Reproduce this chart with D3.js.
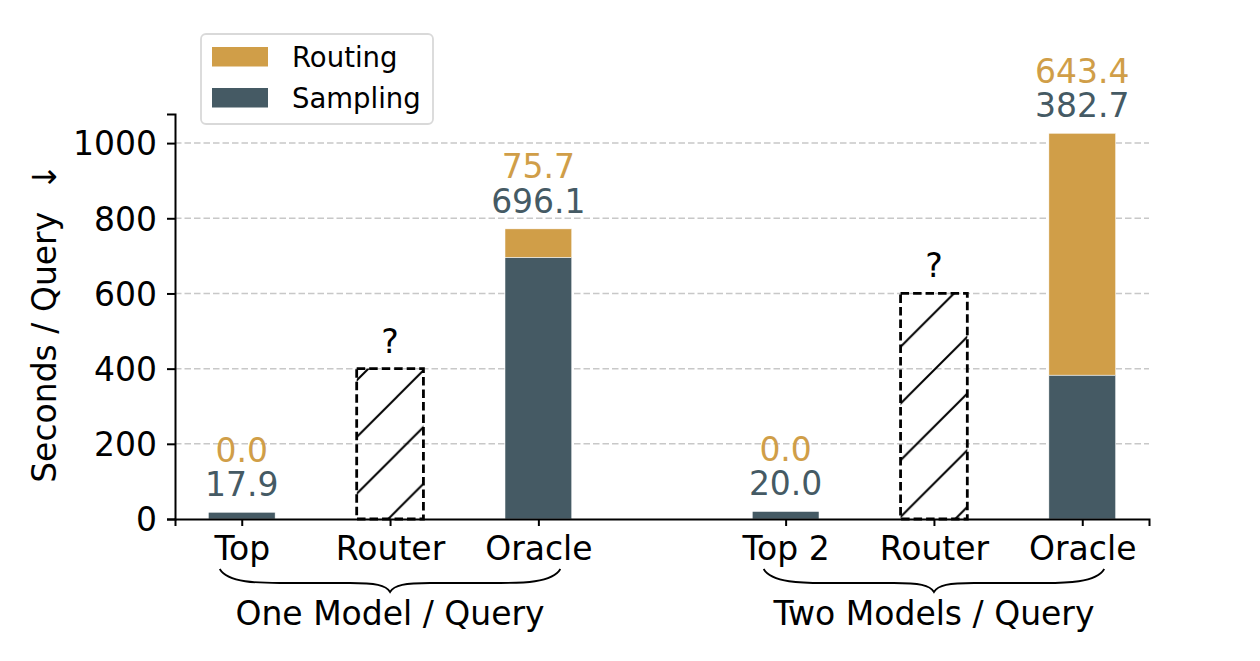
<!DOCTYPE html>
<html>
<head>
<meta charset="utf-8">
<script src="https://cdn.jsdelivr.net/npm/d3@7/dist/d3.min.js"></script>
<style>
  body { margin: 0; background: #fff; }
  svg { display: block; font-family: "DejaVu Sans", sans-serif; }
</style>
</head>
<body>
<svg id="chart"></svg>
<script>
// data
const groups = ["One Model / Query", "Two Models / Query"]
const categories = [["Top", "Router", "Oracle"], ["Top 2", "Router", "Oracle"]]
const sampling = [[17.9, null, 696.1], [20.0, null, 382.7]]
const routing = [[0.0, null, 75.7], [0.0, null, 643.4]]
const unknownHeight = [[null, 400, null], [null, 600, null]]  // hatched "?" placeholders
const yTicks = [0, 200, 400, 600, 800, 1000]

const W = 1260, H = 661
const ORANGE = "#D09E48", SLATE = "#455A64"
const FS = 33

const svg = d3.select("#chart").attr("width", W).attr("height", H)

// flatten into bars, positions are group-index based
const groupGap = 0.667
const bars = []
groups.forEach((g, gi) => {
  categories[gi].forEach((c, i) => {
    bars.push({
      group: gi, cat: c,
      pos: gi * (categories[gi].length + groupGap) + i,
      sampling: sampling[gi][i], routing: routing[gi][i],
      unknown: unknownHeight[gi][i]
    })
  })
})

const maxVal = d3.max(bars, d => d.unknown != null ? d.unknown : d.sampling + d.routing)
const barW = 0.45
const x = d3.scaleLinear()
  .domain([-barW, d3.max(bars, d => d.pos) + barW])
  .range([175, 1149])
const y = d3.scaleLinear()
  .domain([0, maxVal * 1.05])
  .range([519, 114])

const bw = x(barW) - x(0)

// hatch pattern, anchored to the page like matplotlib hatching
const hs = 56.7
const defs = svg.append('defs')
const pat = defs.append('pattern')
  .attr('id', 'hatch')
  .attr('patternUnits', 'userSpaceOnUse')
  .attr('width', hs).attr('height', hs)
pat.append('path')
  .attr('d', `M0,${hs} L${hs},0 M-6,6 L6,-6 M${hs - 6},${hs + 6} L${hs + 6},${hs - 6}`)
  .attr('stroke', '#000').attr('stroke-width', 2).attr('fill', 'none')

// grid
svg.append('g')
  .selectAll('line')
  .data(yTicks.filter(t => t > 0))
  .join('line')
  .attr('x1', x.range()[0]).attr('x2', x.range()[1])
  .attr('y1', d => y(d)).attr('y2', d => y(d))
  .attr('stroke', '#c8c8c8').attr('stroke-width', 1.5)
  .attr('stroke-dasharray', '6.5,3')

// stacked bars
const known = bars.filter(d => d.unknown == null)
svg.append('g').selectAll('rect')
  .data(known)
  .join('rect')
  .attr('x', d => x(d.pos) - bw / 2)
  .attr('width', bw)
  .attr('y', d => y(d.sampling))
  .attr('height', d => y(0) - y(d.sampling))
  .attr('fill', SLATE)
  .attr('stroke', '#fff').attr('stroke-width', 0.5)

svg.append('g').selectAll('rect')
  .data(known.filter(d => d.routing > 0))
  .join('rect')
  .attr('x', d => x(d.pos) - bw / 2)
  .attr('width', bw)
  .attr('y', d => y(d.sampling + d.routing))
  .attr('height', d => y(d.sampling) - y(d.sampling + d.routing))
  .attr('fill', ORANGE)
  .attr('stroke', '#fff').attr('stroke-width', 0.5)

// placeholder bars (router)
const unk = bars.filter(d => d.unknown != null)
svg.append('g').selectAll('rect')
  .data(unk)
  .join('rect')
  .attr('x', d => x(d.pos) - bw / 2)
  .attr('width', bw)
  .attr('y', d => y(d.unknown))
  .attr('height', d => y(0) - y(d.unknown))
  .attr('fill', 'url(#hatch)')
  .attr('stroke', '#000').attr('stroke-width', 2.8)
  .attr('stroke-dasharray', '8.5,4')

// value labels
const lbl = svg.append('g').attr('font-size', FS).attr('text-anchor', 'middle')
known.forEach(d => {
  const top = y(d.sampling + d.routing)
  lbl.append('text').attr('x', x(d.pos)).attr('y', top - 16)
    .attr('fill', SLATE).text(d.sampling.toFixed(1))
  lbl.append('text').attr('x', x(d.pos)).attr('y', top - 50.5)
    .attr('fill', ORANGE).text(d.routing.toFixed(1))
})
unk.forEach(d => {
  lbl.append('text').attr('x', x(d.pos)).attr('y', y(d.unknown) - 16)
    .attr('fill', '#000').text('?')
})

// axes
const xAxis = d3.axisBottom(x)
  .tickValues(bars.map(d => d.pos))
  .tickFormat((v, i) => bars[i].cat)
  .tickSizeOuter(0).tickSize(7).tickPadding(10)
const gx = svg.append('g')
  .attr('transform', `translate(0, ${y(0)})`)
  .call(xAxis)
gx.selectAll('text').attr('font-size', FS).attr('fill', '#000')
  .attr('font-family', '"DejaVu Sans", sans-serif').attr('dy', '0.72em')
gx.selectAll('line,path').attr('stroke', '#000').attr('stroke-width', 2)

const yAxis = d3.axisLeft(y).tickValues(yTicks).tickFormat(d3.format('d'))
  .tickSizeOuter(0).tickSize(8).tickPadding(10)
const gy = svg.append('g')
  .attr('transform', `translate(${x.range()[0]}, 0)`)
  .call(yAxis)
gy.selectAll('text').attr('font-size', FS).attr('fill', '#000')
  .attr('font-family', '"DejaVu Sans", sans-serif').attr('dy', '0.36em')
gy.selectAll('line,path').attr('stroke', '#000').attr('stroke-width', 2)

svg.append('text')
  .attr('transform', 'translate(56, 323) rotate(-90)')
  .attr('text-anchor', 'middle')
  .attr('font-size', FS)
  .text('Seconds / Query\u00a0\u00a0\u2193')

// braces + group labels
groups.forEach((g, gi) => {
  const gb = bars.filter(d => d.group === gi)
  const x0 = x(gb[0].pos) - 22, x1 = x(gb[gb.length - 1].pos) + 22
  const xm = (x0 + x1) / 2
  const yt = 569, yh = 583, yb = 592
  const p = d3.path()
  p.moveTo(x0, yt)
  p.bezierCurveTo(x0 + 8, yh, x0 + 40, yh, x0 + 60, yh)
  p.lineTo(xm - 40, yh)
  p.bezierCurveTo(xm - 15, yh, xm - 4, yh + 2, xm, yb)
  p.bezierCurveTo(xm + 4, yh + 2, xm + 15, yh, xm + 40, yh)
  p.lineTo(x1 - 60, yh)
  p.bezierCurveTo(x1 - 40, yh, x1 - 8, yh, x1, yt)
  svg.append('path').attr('d', p.toString())
    .attr('fill', 'none').attr('stroke', '#000').attr('stroke-width', 1.8)
  svg.append('text')
    .attr('x', (x(gb[0].pos) + x(gb[gb.length - 1].pos)) / 2)
    .attr('y', 625)
    .attr('text-anchor', 'middle').attr('font-size', FS)
    .text(g)
})

// legend
const leg = svg.append('g')
leg.append('rect')
  .attr('x', 201).attr('y', 34).attr('width', 232).attr('height', 90)
  .attr('rx', 5).attr('fill', '#fff').attr('fill-opacity', 0.8)
  .attr('stroke', '#d9d9d9').attr('stroke-width', 1.8)
const legItems = [{ name: 'Routing', color: ORANGE }, { name: 'Sampling', color: SLATE }]
legItems.forEach((it, i) => {
  const yy = 47 + i * 41
  leg.append('rect').attr('x', 212).attr('y', yy).attr('width', 56).attr('height', 19.5)
    .attr('fill', it.color)
  leg.append('text').attr('x', 292).attr('y', yy + 19.5).attr('font-size', 27.5)
    .text(it.name)
})
</script>
</body>
</html>
